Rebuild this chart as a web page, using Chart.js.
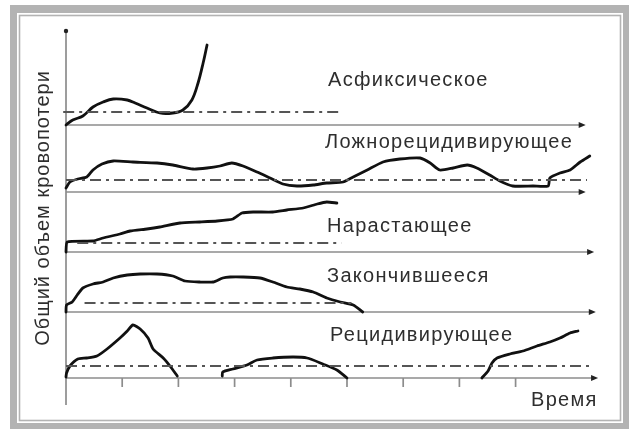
<!DOCTYPE html>
<html><head><meta charset="utf-8">
<script src="https://cdn.jsdelivr.net/npm/chart.js@4"></script>
<style>html,body{margin:0;padding:0;background:#fff}canvas{display:block}</style>
</head><body>
<canvas id="c" width="629" height="429"></canvas>
<script>
// ---- texts ----
const panelNames = ['Асфиксическое','Ложнорецидивирующее','Нарастающее','Закончившееся','Рецидивирующее'];
const yAxisTitle = 'Общий объем кровопотери';
const xAxisTitle = 'Время';
const timeTicks = [1,2,3,4,5,6,7,8];

// ---- panel baselines (value of each panel's zero line) ----
const panelBase = [253,186,126,66,0];
// dash-dot reference level in each panel, and its extent in time
const thresholdLevel = [13,12,9,9,12];
const thresholdFrom = [-0.05,0,0.2,0.33,0];
const thresholdTo = [4.91,9.27,4.9,5.08,9.32];
const axisEnd = [9.23,9.23,9.38,9.41,9.45];

// ---- series (time, volume above panel baseline) ----
const asphT = [0,0.12,0.30,0.48,0.66,0.84,1.09,1.23,1.44,1.67,1.90,2.08,2.24,2.35,2.44,2.51];
const asphV = [0,5,9,18,23,26,25,22,17,12,12,15,25,42,62,80];

const falseT = [0,0.07,0.21,0.37,0.48,0.64,0.84,1.19,1.62,1.90,2.26,2.51,2.74,2.95,3.15,3.40,3.63,3.86,4.11,4.40,4.64,4.93,5.11,5.36,5.64,5.94,6.30,6.48,6.65,6.89,7.14,7.31,7.54,7.72,7.95,8.31,8.58,8.61,8.79,8.97,9.15,9.32];
const falseV = [4,10,13,15,22,28,31,30,29,27,23,24,26,29,26,20,14,8,6,7,9,10,15,22,30,33,34,29,22,24,27,24,17,11,6,6,6,14,19,22,30,36];

const growT = [0,0.02,0.48,0.66,0.96,1.14,1.44,1.67,2.03,2.38,2.69,2.97,3.13,3.33,3.68,3.93,4.22,4.47,4.64,4.82];
const growV = [0,10,11,14,18,21,23,25,29,30,31,33,39,40,40,42,44,48,50,49];

const endT = [0,0.01,0.11,0.20,0.30,0.48,0.66,0.84,1.09,1.32,1.62,1.90,2.12,2.38,2.62,2.79,2.92,3.15,3.45,3.68,3.93,4.16,4.40,4.64,4.88,5.11,5.28];
const endV = [0,7,10,17,24,28,30,34,37,38,38,36,31,30,30,34,35,35,34,30,25,23,20,14,10,7,0];

const rec1T = [0,0.01,0.07,0.21,0.37,0.55,0.73,0.96,1.09,1.19,1.32,1.46,1.55,1.73,1.85,1.98];
const rec1V = [1,5,12,19,20,22,29,40,47,53,49,40,29,20,12,2];
const rec2T = [2.78,2.79,2.97,3.22,3.40,3.68,4.04,4.29,4.57,4.82,5.00];
const rec2V = [2,6,9,13,18,20,21,20,14,8,0];
const rec3T = [7.40,7.51,7.58,7.67,7.90,8.13,8.38,8.61,8.79,8.97,9.11];
const rec3V = [0,7,15,20,24,27,32,36,40,45,47];

// ---- build datasets ----
const pts = (ts, vs, base) => ts.map((t,i)=>({x:t, y:vs[i]+base}));
const curve = (data, tension) => ({data, borderColor:'#111', borderWidth:2.8, pointRadius:0, tension, fill:false, clip:false, borderCapStyle:'round', borderJoinStyle:'round'});
const datasets = [];
for (let i=0;i<5;i++){
  datasets.push({data:[{x:thresholdFrom[i],y:panelBase[i]+thresholdLevel[i]},{x:thresholdTo[i],y:panelBase[i]+thresholdLevel[i]}],
    borderColor:'#555', borderWidth:2.2, borderDash:[11,5,3,5], pointRadius:0, clip:false});
}
datasets.push(curve(pts(asphT,asphV,panelBase[0]),0.35));
datasets.push(curve(pts(falseT,falseV,panelBase[1]),0.2));
datasets.push(curve(pts(growT,growV,panelBase[2]),0.15));
datasets.push(curve(pts(endT,endV,panelBase[3]),0.2));
datasets.push(curve(pts(rec1T,rec1V,panelBase[4]),0.2));
datasets.push(curve(pts(rec2T,rec2V,panelBase[4]),0.25));
datasets.push(curve(pts(rec3T,rec3V,panelBase[4]),0.2));

const FONT = '20px "Liberation Sans", Arial, sans-serif';
const decor = {
  id:'decor',
  beforeDraw(chart){
    const c = chart.ctx;
    c.save();
    c.fillStyle='#fff'; c.fillRect(0,0,chart.width,chart.height);
    c.fillStyle='#b3b3b3'; c.fillRect(10,5,619,424);
    c.fillStyle='#fff'; c.fillRect(17,13,606,410);
    c.strokeStyle='#b3b3b3'; c.lineWidth=1.6; c.strokeRect(19.5,15.5,601,405);
    c.restore();
  },
  beforeDatasetsDraw(chart){
    const c = chart.ctx, xs = chart.scales.x, ys = chart.scales.y;
    c.save();
    c.strokeStyle='#8c8c8c'; c.lineWidth=1.7;
    const x0 = xs.getPixelForValue(0);
    // vertical axis
    c.beginPath(); c.moveTo(x0, ys.getPixelForValue(-27)); c.lineTo(x0, ys.getPixelForValue(346)); c.stroke();
    c.fillStyle='#222';
    c.beginPath(); c.arc(x0, ys.getPixelForValue(347), 2.2, 0, Math.PI*2); c.fill();
    // panel axes
    for (let i=0;i<5;i++){
      const y = ys.getPixelForValue(panelBase[i]);
      const xe = xs.getPixelForValue(axisEnd[i]);
      c.strokeStyle='#8c8c8c';
      c.beginPath(); c.moveTo(x0,y); c.lineTo(xe-3,y); c.stroke();
      c.fillStyle='#222';
      c.beginPath(); c.moveTo(xe+1,y); c.lineTo(xe-6,y-3); c.lineTo(xe-6,y+3); c.closePath(); c.fill();
    }
    // ticks
    c.strokeStyle='#8c8c8c';
    const yb = ys.getPixelForValue(0);
    timeTicks.forEach(t=>{
      const x = xs.getPixelForValue(t);
      c.beginPath(); c.moveTo(x,yb); c.lineTo(x,yb+9); c.stroke();
    });
    c.restore();
  },
  afterDraw(chart){
    const c = chart.ctx, o = chart.options.plugins.decor;
    c.save();
    c.font = FONT; c.fillStyle='#2e2e2e'; c.textBaseline='middle'; c.textAlign='left';
    try { c.letterSpacing = '1.3px'; } catch(e){}
    panelNames.forEach((n,i)=>{
      c.fillText(n, o.labelX[i], o.labelY[i]);
    });
    c.fillText(xAxisTitle, o.xTitle[0], o.xTitle[1]);
    c.translate(o.yTitle[0], o.yTitle[1]); c.rotate(-Math.PI/2);
    c.textAlign='center';
    try { c.letterSpacing = '1px'; } catch(e){}
    c.fillText(yAxisTitle, 0, 0);
    c.restore();
  }
};

new Chart(document.getElementById('c'), {
  type:'line',
  data:{datasets},
  options:{
    responsive:false, animation:false, devicePixelRatio:1,
    layout:{padding:{left:60.38, right:30.8, top:30, bottom:51}},
    scales:{
      x:{type:'linear', min:-0.1, max:9.47, display:false},
      y:{type:'linear', min:0, max:348, display:false}
    },
    plugins:{
      legend:{display:false}, tooltip:{enabled:false},
      decor:{labelX:[328,325,327,327,330], labelY:[80,142,226,276,335], xTitle:[531,400], yTitle:[43,208]}
    }
  },
  plugins:[decor]
});
</script>
</body></html>
